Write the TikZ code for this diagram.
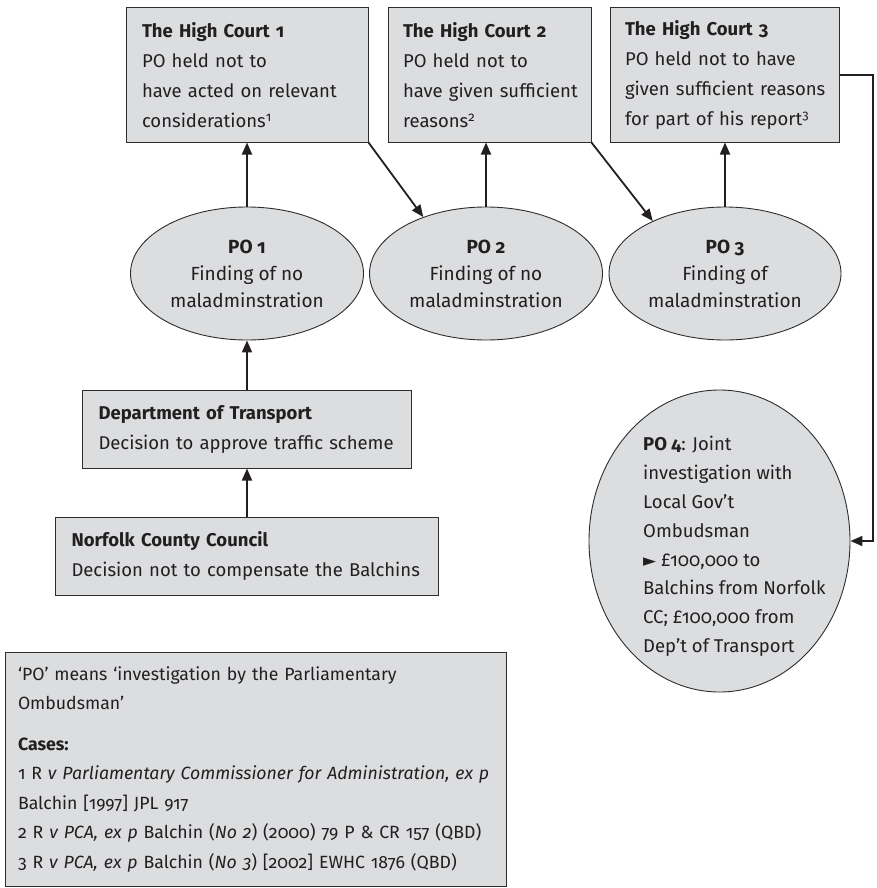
\documentclass[tikz,border=0pt]{standalone}
\usepackage{fontspec}
\setmainfont{Fira Sans}[Numbers=OldStyle]
\newfontfamily\symfont{DejaVu Sans}
\usetikzlibrary{shapes.geometric,arrows.meta}
\definecolor{boxfill}{RGB}{220,221,223}
\definecolor{boxline}{RGB}{45,45,45}
\definecolor{txt}{RGB}{35,31,32}
\tikzset{
  rbox/.style={draw=boxline, line width=1pt, fill=boxfill, text=txt, align=left,
    inner xsep=16pt, inner ysep=0pt, font={\fontsize{18.5}{30}\selectfont}},
  oval/.style={draw=boxline, line width=0.9pt, fill=boxfill, text=txt, align=center,
    ellipse, inner sep=0pt, font={\fontsize{19}{27}\selectfont}},
  conn/.style={draw=txt, line width=1.8pt},
  arr/.style={conn, -{Triangle[length=12pt,width=10pt]}}
}
\begin{document}
\begin{tikzpicture}[x=1pt,y=-1pt]
\useasboundingbox (0,0) rectangle (877,888);
% High Court boxes
\node[rbox, text width=210pt, minimum height=134pt] (hc1) at (247,75)
  {\textbf{The High Court 1}\\PO held not to\\\mbox{have acted on relevant}\\considerations\textsuperscript{1}};
\node[rbox, text width=173pt, minimum height=134pt, inner xsep=15pt] (hc2) at (489.5,75)
  {\textbf{The High Court 2}\\PO held not to\\\mbox{have given sufficient}\\reasons\textsuperscript{2}};
\node[rbox, text width=199pt, minimum height=134pt, inner xsep=15pt] (hc3) at (724.5,75)
  {\textbf{The High Court 3}\\\mbox{PO held not to have}\\\mbox{given sufficient reasons}\\\mbox{for part of his report\textsuperscript{3}}};
% PO ellipses
\node[oval, minimum width=233pt, minimum height=133pt] (po1) at (247,273.5)
  {\textbf{PO 1}\\Finding of no\\maladminstration};
\node[oval, minimum width=233pt, minimum height=133pt] (po2) at (486,273.5)
  {\textbf{PO 2}\\Finding of no\\maladminstration};
\node[oval, minimum width=232pt, minimum height=133pt] (po3) at (725,273.5)
  {\textbf{PO 3}\\Finding of\\maladminstration};
% Department and council
\node[rbox, text width=297pt, minimum height=78pt] (dept) at (247,429)
  {\textbf{Department of Transport}\\Decision to approve traffic scheme};
\node[rbox, text width=351pt, minimum height=78pt] (ncc) at (247,556)
  {\textbf{Norfolk County Council}\\\mbox{Decision not to compensate the Balchins}};
% PO 4
\node[draw=boxline, line width=0.9pt, fill=boxfill, ellipse, inner sep=0pt,
  minimum width=261pt, minimum height=302pt] (po4) at (719.5,541) {};
\node[anchor=west, align=left, inner sep=0pt, text=txt,
  font={\fontsize{18.5}{28.8}\selectfont}] (po4text) at (643,546.5)
  {\textbf{PO 4}: Joint\\investigation with\\Local Gov’t\\Ombudsman\\{\symfont\fontsize{17}{28.8}\selectfont ►} £100,000 to\\Balchins from Norfolk\\CC; £100,000 from\\Dep’t of Transport};
% Legend
\node[rbox, text width=475pt, minimum height=234pt, inner xsep=13pt,
  font={\fontsize{17.7}{29.5}\selectfont}] (legend) at (255.5,769)
  {‘PO’ means ‘investigation by the Parliamentary\\Ombudsman’\\[11pt]
   \textbf{Cases:}\\
   1 R \textit{v Parliamentary Commissioner for Administration, ex p}\\
   Balchin [1997] JPL 917\\
   \mbox{2 R \textit{v PCA, ex p} Balchin (\textit{No 2}) (2000) 79 P \& CR 157 (QBD)}\\
   \mbox{3 R \textit{v PCA, ex p} Balchin (\textit{No 3}) [2002] EWHC 1876 (QBD)}};
% connectors
\draw[arr] (po1.north) -- (hc1.south);
\draw[arr] (hc1.south east) -- (po2.138);
\draw[arr] (po2.north) -- (po2.north |- hc2.south);
\draw[arr] (hc2.south east) -- (po3.144);
\draw[arr] (po3.north) -- (po3.north |- hc3.south);
\coordinate (c1) at (873,75);
\draw[arr] (hc3.east) -- (c1) |- (po4.east);
\draw[arr] (dept.north) -- (po1.south);
\draw[arr] (ncc.north) -- (dept.south);
\end{tikzpicture}
\end{document}
